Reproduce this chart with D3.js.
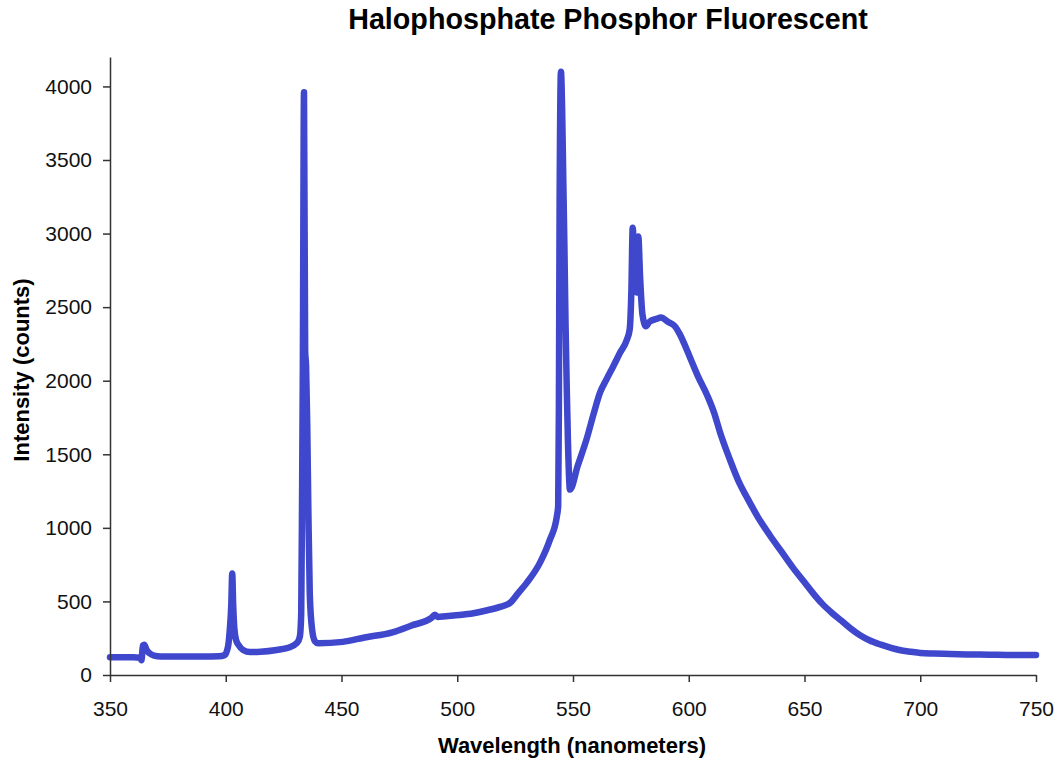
<!DOCTYPE html>
<html>
<head>
<meta charset="utf-8">
<script src="https://cdn.jsdelivr.net/npm/d3@7"></script>
<style>
  body { margin: 0; background: #fff; }
  svg { display: block; font-family: "Liberation Sans", Arial, sans-serif; }
</style>
</head>
<body>
<div id="chart"></div>
<script>
// spectrum (wavelength in nm, intensity in counts)
const wavelengths = [
  350, 355, 360, 363, 363.6, 364.2, 364.8, 365.8, 367, 369, 372, 380, 390, 397, 399.5,
  401, 401.8, 402.4, 402.8, 403.2, 403.7, 404.5, 405.5, 407.5, 410.5, 415, 422, 427, 430.8,
  432, 432.6, 433, 433.3, 433.8, 434.3, 434.7, 435.2, 435.7, 436.3, 437.3, 438.5, 440,
  450.6, 460, 472, 480, 489, 490.3, 491.5, 495, 501, 507, 513, 518.5, 522.8, 526, 530,
  535.7, 540, 543, 543.6, 543.9, 544.2, 544.8, 545.3, 545.8, 546.3, 546.8, 547.3, 547.8,
  548.7, 552, 556, 559, 561.7, 564.5, 567.3, 570.3, 573.3, 574.5, 575.2, 575.8, 576.6,
  577.5, 578.2, 579, 580, 581.5, 583, 586, 588, 591, 594, 596, 600.5, 604, 608, 611,
  613.5, 617.8, 622, 625, 630, 635, 640, 645, 650, 654, 657.6, 662, 666, 670, 674, 678,
  683, 687, 691, 696, 700, 706, 713, 720, 730, 740, 750
];
const counts = [
  120, 120, 120, 118, 100, 200, 205, 170, 148, 132, 126, 125, 125, 127, 135,
  195, 320, 480, 690, 480, 320, 235, 205, 170, 156, 158, 170, 185, 218,
  260, 420, 1300, 2100, 3960, 2200, 2100, 1700, 1100, 550, 310, 230, 215,
  225, 255, 290, 335, 390, 410, 395, 400, 408, 420, 440, 463, 490, 550, 626,
  762, 918, 1075, 1150, 1800, 3150, 4100, 3850, 3370, 2900, 2370, 1950, 1600,
  1260, 1420, 1610, 1780, 1920, 2010, 2095, 2190, 2280, 2350, 2600, 3040, 2700,
  2600, 2980, 2700, 2450, 2370, 2400, 2420, 2430, 2400, 2370, 2320, 2160, 2030, 1900, 1780,
  1650, 1463, 1300, 1211, 1070, 950, 840, 730, 630, 550, 485, 420, 368, 315, 270, 236,
  206, 186, 170, 158, 150, 146, 143, 140, 138, 136, 136
];
const xTicks = [350, 400, 450, 500, 550, 600, 650, 700, 750];
const yTicks = [0, 500, 1000, 1500, 2000, 2500, 3000, 3500, 4000];

const W = 1056, H = 759;
const plot = { left: 110, right: 1036, top: 57, bottom: 675 };

const svg = d3.select('#chart')
  .append('svg')
  .attr('width', W)
  .attr('height', H);

const x = d3.scaleLinear().domain([350, 750]).range([plot.left, plot.right]);
const y = d3.scaleLinear().domain([0, 4200]).range([plot.bottom, plot.top]);

// spectrum line
const points = wavelengths.map((w, i) => [w, counts[i]]);
const line = d3.line()
  .x(d => x(d[0]))
  .y(d => y(d[1]))
  .curve(d3.curveMonotoneX);

svg.append('path')
  .datum(points)
  .attr('d', line)
  .attr('fill', 'none')
  .attr('stroke', '#3f48cc')
  .attr('stroke-width', 6.5)
  .attr('stroke-linejoin', 'round')
  .attr('stroke-linecap', 'round');

// axes
const xAxis = svg.append('g')
  .attr('transform', `translate(0,${plot.bottom})`)
  .call(d3.axisBottom(x).tickValues(xTicks).tickFormat(d3.format('d'))
    .tickSize(7).tickSizeOuter(0).tickPadding(19));

const yAxis = svg.append('g')
  .attr('transform', `translate(${plot.left},0)`)
  .call(d3.axisLeft(y).tickValues(yTicks).tickFormat(d3.format('d'))
    .tickSize(7).tickSizeOuter(0).tickPadding(11));

[xAxis, yAxis].forEach(g => {
  g.select('.domain').attr('stroke', '#333').attr('stroke-width', 1.5);
  g.selectAll('.tick line').attr('stroke', '#333').attr('stroke-width', 1.5);
  g.selectAll('.tick text')
    .attr('fill', '#111')
    .style('font-size', '21px')
    .style('font-family', '"Liberation Sans", Arial, sans-serif');
});

// title and axis labels
svg.append('text')
  .attr('x', 608)
  .attr('y', 29)
  .attr('text-anchor', 'middle')
  .style('font-size', '28.7px')
  .style('font-weight', 'bold')
  .text('Halophosphate Phosphor Fluorescent');

svg.append('text')
  .attr('x', 572)
  .attr('y', 753)
  .attr('text-anchor', 'middle')
  .style('font-size', '22px')
  .style('font-weight', 'bold')
  .text('Wavelength (nanometers)');

svg.append('text')
  .attr('transform', 'rotate(-90)')
  .attr('x', -370)
  .attr('y', 29)
  .attr('text-anchor', 'middle')
  .style('font-size', '22px')
  .style('font-weight', 'bold')
  .text('Intensity (counts)');
</script>
</body>
</html>
